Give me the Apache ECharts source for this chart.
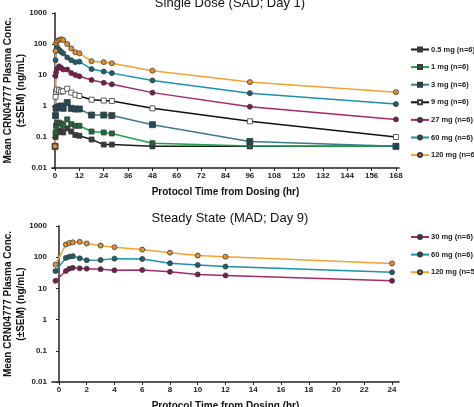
<!DOCTYPE html>
<html><head><meta charset="utf-8">
<script src="https://cdn.jsdelivr.net/npm/echarts@6/dist/echarts.min.js"></script>
<style>html,body{margin:0;padding:0;background:#fff}#c{width:474px;height:407px}</style>
</head><body><div id="c"></div>
<script>
// ---- Data ----
const sadTimes = [0, 0.25, 0.5, 1, 2, 3, 4, 6, 8, 10, 12, 18, 24, 28, 48, 96, 168];
const sadLabels = ['0.5 mg (n=6)', '1 mg (n=6)', '3 mg (n=6)', '9 mg (n=6)', '27 mg (n=6)', '60 mg (n=6)', '120 mg (n=6)'];
const sad05  = [0.05, 0.10, 0.14, 0.14, 0.15, 0.16, 0.14, 0.19, 0.15, 0.116, 0.11, 0.083, 0.057, 0.057, 0.05, 0.05, 0.05];
const sad1   = [0.05, 0.14, 0.23, 0.29, 0.29, 0.27, 0.24, 0.37, 0.26, 0.23, 0.23, 0.15, 0.14, 0.13, 0.063, 0.051, 0.05];
const sad3   = [0.05, 0.49, 0.84, 0.9, 0.95, 1.0, 0.84, 1.3, 0.84, 0.8, 0.8, 0.51, 0.51, 0.49, 0.25, 0.072, 0.05];
const sad9   = [0.05, 2.0, 2.9, 3.4, 3.2, 2.9, 3.0, 3.6, 2.7, 2.3, 2.1, 1.6, 1.5, 1.45, 0.84, 0.32, 0.10];
const sad27  = [0.05, 9.3, 12, 16, 19, 17, 15, 15, 11.5, 10, 9.1, 6.9, 5.6, 5.0, 2.7, 0.95, 0.37];
const sad60  = [0.05, 30, 60, 80, 65, 56, 50, 37, 30, 26, 27, 15.5, 13, 11.5, 6.7, 2.6, 1.15];
const sad120 = [0.05, 60, 105, 125, 135, 142, 135, 100, 72, 54, 50, 28, 26, 24, 13.8, 5.9, 2.8];
const sadTicks = [0, 12, 24, 36, 48, 60, 72, 84, 96, 108, 120, 132, 144, 156, 168];

const madTimes = [-0.25, 0.5, 0.75, 1, 1.5, 2, 3, 4, 6, 8, 10, 12, 24];
const madLabels = ['30 mg (n=6)', '60 mg (n=6)', '120 mg (n=5)'];
const mad30  = [17.5, 36, 43, 46, 44, 43, 41, 38, 39, 34, 28, 26, 17.5];
const mad60  = [36, 95, 104, 108, 92, 80, 81, 90, 88, 64, 56, 50, 33];
const mad120 = [58, 255, 285, 300, 310, 275, 235, 210, 175, 140, 113, 104, 63];
const madTicks = [0, 2, 4, 6, 8, 10, 12, 14, 16, 18, 20, 22, 24];

const yTicks = [0.01, 0.1, 1, 10, 100, 1000];
const titles = ['Single Dose (SAD; Day 1)', 'Steady State (MAD; Day 9)'];
const xName = 'Protocol Time from Dosing (hr)';
const yName = 'Mean CRN04777 Plasma Conc.\n(±SEM) (ng/mL)';

// ---- Styles ----
const FONT = 'Liberation Sans, Arial, sans-serif';
const styles = {
  '0.5 mg (n=6)': {line: '#1a1a1a', fill: '#3a3a3a', sym: 'rect', size: 5},
  '1 mg (n=6)':   {line: '#1fa04a', fill: '#1d6a3a', sym: 'rect', size: 5},
  '3 mg (n=6)':   {line: '#3b7a8a', fill: '#1e4a56', sym: 'rect', size: 6},
  '9 mg (n=6)':   {line: '#111111', fill: '#ffffff', sym: 'rect', size: 5},
  '27 mg (n=6)':  {line: '#a52a66', fill: '#7c1a4a', sym: 'circle', size: 5},
  '60 mg (n=6)':  {line: '#1a92ad', fill: '#1f5f6e', sym: 'circle', size: 5},
  '120 mg (n=6)': {line: '#f5a033', fill: '#e8902a', sym: 'circle', size: 5},
  '30 mg (n=6)':  {line: '#a52a66', fill: '#7c1a4a', sym: 'circle', size: 5},
  '120 mg (n=5)': {line: '#f5a033', fill: '#e8902a', sym: 'circle', size: 5}
};

function mkSeries(name, times, vals, idx) {
  const s = styles[name];
  return {
    name: name, type: 'line', xAxisIndex: idx, yAxisIndex: idx,
    data: times.map((t, i) => [t, vals[i]]),
    symbol: s.sym, symbolSize: s.size, showSymbol: true,
    lineStyle: {color: s.line, width: 1.5},
    itemStyle: {color: s.fill, borderColor: '#3a3a3a', borderWidth: 0.8},
    emphasis: {disabled: true}, animation: false
  };
}

const sadVals = [sad05, sad1, sad3, sad9, sad27, sad60, sad120];
const madVals = [mad30, mad60, mad120];
const series = [];
sadLabels.forEach((n, i) => series.push(mkSeries(n, sadTimes, sadVals[i], 0)));
madLabels.forEach((n, i) => series.push(mkSeries(n, madTimes, madVals[i], 1)));

function xAxis(idx, min, max, ticks) {
  return {
    type: 'value', gridIndex: idx, min: min, max: max,
    name: xName, nameLocation: 'middle', nameGap: 19, nameMoveOverlap: false,
    nameTextStyle: {fontFamily: FONT, fontSize: 10, fontWeight: 'bold', color: '#111'},
    axisLine: {lineStyle: {color: '#222', width: 1.5}},
    axisTick: {show: true, length: 3, customValues: ticks, lineStyle: {color: '#222', width: 1}},
    axisLabel: {customValues: ticks, fontFamily: FONT, fontSize: 8, fontWeight: 'bold', color: '#222', margin: 4},
    splitLine: {show: false}
  };
}
function yAxis(idx) {
  return {
    type: 'log', gridIndex: idx, min: 0.01, max: 1000, logBase: 10,
    name: yName, nameLocation: 'middle', nameGap: 25, nameRotate: 90, nameMoveOverlap: false,
    nameTextStyle: {fontFamily: FONT, fontSize: 10, fontWeight: 'bold', color: '#111', lineHeight: 12.5},
    axisLine: {show: true, lineStyle: {color: '#222', width: 1.5}},
    axisTick: {show: true, length: 3, lineStyle: {color: '#222', width: 1}},
    axisLabel: {fontFamily: FONT, fontSize: 8, fontWeight: 'bold', color: '#222', margin: 5,
      formatter: v => { const r = yTicks.find(t => Math.abs(t - v) / t < 1e-6); return r === undefined ? '' : String(r); }},
    minorTick: {show: false},
    splitLine: {show: false}
  };
}

const chart = echarts.init(document.getElementById('c'), null, {renderer: 'canvas'});
chart.setOption({
  backgroundColor: '#fff',
  animation: false,
  title: [
    {text: titles[0], left: 225, top: -8, textAlign: 'center',
     textStyle: {fontFamily: FONT, fontSize: 13, fontWeight: 'normal', color: '#111'}},
    {text: titles[1], left: 225, top: 207, textAlign: 'center',
     textStyle: {fontFamily: FONT, fontSize: 13, fontWeight: 'normal', color: '#111'}}
  ],
  grid: [
    {left: 52, top: 13, width: 347, height: 155, containLabel: false, outerBoundsMode: 'none'},
    {left: 52, top: 226, width: 347, height: 156, containLabel: false, outerBoundsMode: 'none'}
  ],
  xAxis: [xAxis(0, -1.5, 169.5, sadTicks), xAxis(1, -0.5, 24.5, madTicks)],
  yAxis: [yAxis(0), yAxis(1)],
  legend: [
    {data: sadLabels, orient: 'vertical', left: 405, top: 40.5, itemWidth: 18, itemHeight: 5, itemGap: 9.6,
     textStyle: {fontFamily: FONT, fontSize: 7.5, fontWeight: 'bold', color: '#222', padding: [0,0,0,-3]}},
    {data: madLabels, orient: 'vertical', left: 405, top: 228, itemWidth: 18, itemHeight: 5, itemGap: 9.6,
     textStyle: {fontFamily: FONT, fontSize: 7.5, fontWeight: 'bold', color: '#222', padding: [0,0,0,-3]}}
  ],
  series: series
});
</script>
</body></html>
